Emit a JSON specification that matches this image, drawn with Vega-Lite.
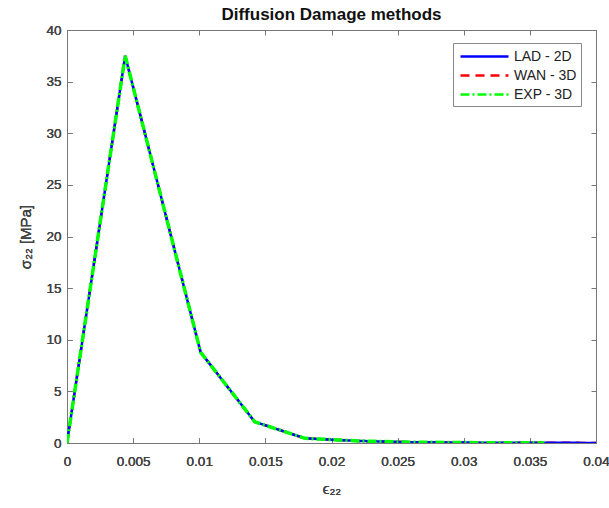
{
  "$schema": "https://vega.github.io/schema/vega-lite/v6.json",
  "width": 529,
  "height": 413,
  "autosize": {"type": "none"},
  "padding": {"left": 67, "top": 30, "right": 13, "bottom": 65},
  "background": "white",
  "title": {"text": "Diffusion Damage methods", "fontSize": 17, "font": "Liberation Sans", "fontWeight": "bold", "color": "#111", "offset": -1, "anchor": "middle"},
  "datasets": {"curves": [
    {"method": "LAD - 2D", "x": 0, "y": 0},
    {"method": "LAD - 2D", "x": 0.0044, "y": 37.5},
    {"method": "LAD - 2D", "x": 0.0101, "y": 8.8},
    {"method": "LAD - 2D", "x": 0.0142, "y": 2.05},
    {"method": "LAD - 2D", "x": 0.018, "y": 0.45},
    {"method": "LAD - 2D", "x": 0.022, "y": 0.2},
    {"method": "LAD - 2D", "x": 0.026, "y": 0.08},
    {"method": "LAD - 2D", "x": 0.03, "y": 0.04},
    {"method": "LAD - 2D", "x": 0.034, "y": 0.02},
    {"method": "LAD - 2D", "x": 0.04, "y": 0.01},
    {"method": "WAN - 3D", "x": 0, "y": 0},
    {"method": "WAN - 3D", "x": 0.0044, "y": 37.5},
    {"method": "WAN - 3D", "x": 0.0101, "y": 8.8},
    {"method": "WAN - 3D", "x": 0.0142, "y": 2.05},
    {"method": "WAN - 3D", "x": 0.018, "y": 0.45},
    {"method": "WAN - 3D", "x": 0.022, "y": 0.2},
    {"method": "WAN - 3D", "x": 0.026, "y": 0.08},
    {"method": "WAN - 3D", "x": 0.03, "y": 0.04},
    {"method": "WAN - 3D", "x": 0.034, "y": 0.02},
    {"method": "WAN - 3D", "x": 0.04, "y": 0.01},
    {"method": "EXP - 3D", "x": 0, "y": 0},
    {"method": "EXP - 3D", "x": 0.0044, "y": 37.5},
    {"method": "EXP - 3D", "x": 0.0101, "y": 8.8},
    {"method": "EXP - 3D", "x": 0.0142, "y": 2.05},
    {"method": "EXP - 3D", "x": 0.018, "y": 0.45},
    {"method": "EXP - 3D", "x": 0.022, "y": 0.2},
    {"method": "EXP - 3D", "x": 0.026, "y": 0.08},
    {"method": "EXP - 3D", "x": 0.03, "y": 0.04},
    {"method": "EXP - 3D", "x": 0.034, "y": 0.02},
    {"method": "EXP - 3D", "x": 0.0361, "y": 0.01}
  ]},
  "data": {"name": "curves"},
  "encoding": {
    "x": {"field": "x", "type": "quantitative", "scale": {"domain": [0, 0.04], "nice": false, "zero": false},
      "axis": {"orient": "bottom", "title": "ϵ₂₂", "values": [0, 0.005, 0.01, 0.015, 0.02, 0.025, 0.03, 0.035, 0.04], "format": "~g", "grid": false, "tickSize": -5, "labelPadding": 16, "titlePadding": 14}},
    "y": {"field": "y", "type": "quantitative", "scale": {"domain": [0, 40], "nice": false},
      "axis": {"orient": "left", "title": "σ₂₂ [MPa]", "values": [0, 5, 10, 15, 20, 25, 30, 35, 40], "grid": false, "tickSize": -5, "labelPadding": 11, "titlePadding": 12}},
    "color": {"field": "method", "type": "nominal",
      "scale": {"domain": ["LAD - 2D", "WAN - 3D", "EXP - 3D"], "range": ["#0000ff", "#ff0000", "#00ff00"]},
      "legend": {"title": null, "orient": "none", "legendX": 386, "legendY": 13, "symbolType": "M-3,0H3", "symbolSize": 256, "symbolOffset": 18, "symbolStrokeWidth": 2.5, "labelFontSize": 14, "labelFont": "Liberation Sans", "labelColor": "#222", "strokeColor": "#888", "fillColor": "white", "padding": 4, "rowPadding": 2, "labelOffset": 20}},
    "strokeDash": {"field": "method", "type": "nominal",
      "scale": {"domain": ["LAD - 2D", "WAN - 3D", "EXP - 3D"], "range": [[1, 0], [9, 6], [9, 3, 2, 3]]},
      "legend": null},
    "order": {"field": "x", "type": "quantitative"}
  },
  "layer": [
    {
      "transform": [{"filter": "datum.method === 'WAN - 3D'"}],
      "mark": {"type": "line", "strokeWidth": 2.5, "clip": true}
    },
    {
      "transform": [{"filter": "datum.method === 'LAD - 2D'"}],
      "mark": {"type": "line", "strokeWidth": 2.5, "clip": true}
    },
    {
      "transform": [{"filter": "datum.method === 'EXP - 3D'"}],
      "mark": {"type": "line", "strokeWidth": 3.5, "clip": true}
    },
    {
      "mark": {"type": "point", "opacity": 0},
      "encoding": {
        "x": {"field": "x", "type": "quantitative", "scale": {"domain": [0, 0.04], "nice": false, "zero": false},
          "axis": {"orient": "top", "title": null, "labels": false, "values": [0, 0.005, 0.01, 0.015, 0.02, 0.025, 0.03, 0.035, 0.04], "grid": false, "tickSize": -5}},
        "y": {"field": "y", "type": "quantitative", "scale": {"domain": [0, 40], "nice": false},
          "axis": {"orient": "right", "title": null, "labels": false, "values": [0, 5, 10, 15, 20, 25, 30, 35, 40], "grid": false, "tickSize": -5}},
        "color": {"value": "black"},
        "strokeDash": {"value": [1, 0]}
      }
    }
  ],
  "resolve": {"scale": {"x": "independent", "y": "independent"}, "axis": {"x": "independent", "y": "independent"}},
  "config": {
    "view": {"stroke": "#777", "strokeWidth": 1},
    "axis": {"domainColor": "#777", "tickColor": "#777", "labelColor": "#444", "labelFontSize": 13.5, "labelFont": "Liberation Sans", "titleFont": "Liberation Sans", "titleFontSize": 15, "titleFontWeight": "normal", "titleColor": "#444", "labelFlush": false}
  }
}
